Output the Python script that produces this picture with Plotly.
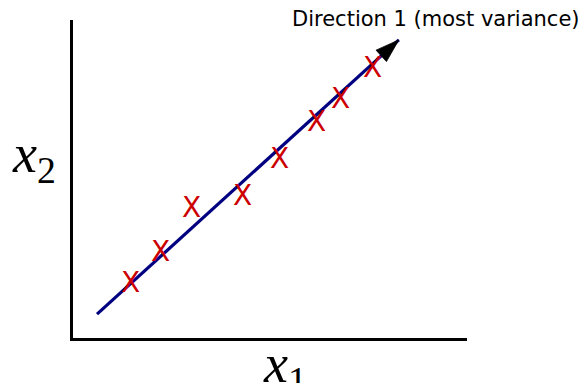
import plotly.graph_objects as go

# Data (abstract units)
pts_x = [1.47, 2.23, 3.02, 4.29, 5.23, 6.17, 6.80, 7.61]
pts_y = [1.43, 2.19, 3.30, 3.60, 4.55, 5.46, 6.06, 6.84]
dir_x = [0.61, 8.27]   # start, arrow tip
dir_y = [0.60, 7.50]
dir_label = "Direction 1 (most variance)"
x_label = "<i>x</i><sub>1</sub>"
y_label = "<i>x</i><sub>2</sub>"

W, H = 584, 383
L, R, T, B = 73, 117, 20, 45
pw, ph = W - L - R, H - T - B
XR = [0, 10]
YR = [0, 8]

def px2paper_x(p):
    return (p - L) / pw

def px2paper_y(p):
    return (H - B - p) / ph

fig = go.Figure()
fig.add_trace(go.Scatter(
    x=dir_x, y=dir_y, mode="lines",
    line=dict(color="#000080", width=3.2),
    hoverinfo="skip", showlegend=False))
fig.add_trace(go.Scatter(
    x=dir_x, y=dir_y, mode="markers",
    marker=dict(symbol=["circle", "arrow"], size=[0, 25], color="#000000",
                opacity=1, angleref="previous",
                line=dict(width=0.8, color="#000000")),
    hoverinfo="skip", showlegend=False))

for xv, yv in zip(pts_x, pts_y):
    fig.add_annotation(
        x=xv, y=yv, xref="x", yref="y", text="X", showarrow=False,
        xanchor="center", yanchor="middle", yshift=-1,
        font=dict(family="DejaVu Sans", size=28, color="#cc0000"))

fig.add_annotation(
    x=px2paper_x(290), y=px2paper_y(19), xref="paper", yref="paper",
    xanchor="left", yanchor="middle", showarrow=False, text=dir_label,
    font=dict(family="DejaVu Sans", size=21, color="black"))

fig.add_annotation(
    x=px2paper_x(34), y=px2paper_y(157), xref="paper", yref="paper",
    xanchor="center", yanchor="middle", showarrow=False, text=y_label,
    font=dict(family="Liberation Serif", size=54, color="black"))

fig.add_annotation(
    x=px2paper_x(285), y=px2paper_y(367), xref="paper", yref="paper",
    xanchor="center", yanchor="middle", showarrow=False, text=x_label,
    font=dict(family="Liberation Serif", size=54, color="black"))

axis_common = dict(showgrid=False, zeroline=False, showticklabels=False,
                   ticks="", showline=True, linecolor="black", linewidth=3,
                   mirror=False, fixedrange=True)
fig.update_xaxes(range=XR, **axis_common)
fig.update_yaxes(range=YR, **axis_common)
fig.update_layout(
    width=W, height=H, margin=dict(l=L, r=R, t=T, b=B),
    plot_bgcolor="white", paper_bgcolor="white", showlegend=False)

fig.write_html("out.html", config={"displayModeBar": False},
               post_script="document.body.style.margin='0';")
